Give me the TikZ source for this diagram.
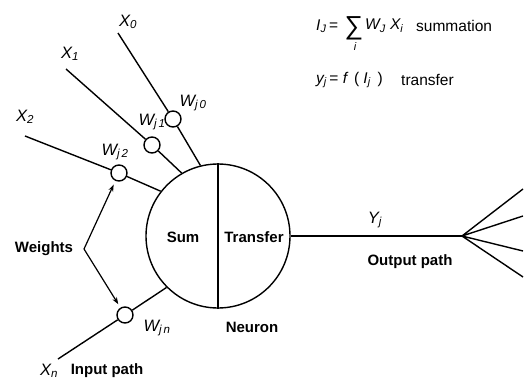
\documentclass[tikz,border=0pt]{standalone}
\usepackage{fontspec}
\setmainfont{Liberation Sans}
\usetikzlibrary{arrows.meta}
\newcommand\sbs[1]{\textsubscript{#1}}
\begin{document}
\begin{tikzpicture}[x=1pt,y=-1pt,
  ln/.style={line width=1.4pt},
  wc/.style={circle,draw,line width=1.4pt,minimum size=16pt,inner sep=0pt},
  lbl/.style={font=\fontsize{15}{17}\selectfont\bfseries,inner sep=0pt},
  var/.style={font=\fontsize{16.5}{18}\selectfont\itshape,inner sep=0pt},
  frm/.style={font=\fontsize{15.5}{17}\selectfont,inner sep=0pt,anchor=west},
  arr/.style={line width=1.2pt,-{Stealth[length=7pt,width=5pt]},shorten >=4pt}]
\useasboundingbox (0,0) rectangle (524,383);
% neuron
\node[circle,draw,line width=1.4pt,minimum size=144pt,inner sep=0pt] (N) at (218,236) {};
\draw[ln] (N.north) -- (N.south);
\node[lbl] (sum) at (183,237) {Sum};
\node[lbl] (tr) at (254,237) {Transfer};
% weight circles
\node[wc] (w0) at (173,119) {};
\node[wc] (w1) at (152,145) {};
\node[wc] (w2) at (119,173) {};
\node[wc] (wn) at (125,315) {};
% input ends
\coordinate (x0e) at (118,33);
\coordinate (x1e) at (66,69);
\coordinate (x2e) at (25,136);
\coordinate (xne) at (58,359);
\draw[ln] (x0e) -- (w0) -- (N.104);
\draw[ln] (x1e) -- (w1) -- (N.120);
\draw[ln] (x2e) -- (w2) -- (N.142);
\draw[ln] (xne) -- (wn) -- (N.225);
% output
\coordinate (F) at (462,236);
\draw[ln] (N.east) -- (F);
\coordinate (o1) at (523,189);
\coordinate (o2) at (523,216);
\coordinate (o3) at (523,251);
\coordinate (o4) at (523,277);
\draw[ln] (F) -- (o1) (F) -- (o2) (F) -- (o3) (F) -- (o4);
% labels
\node[var] (lx0) at (128,22) {X\sbs{0}};
\node[var] (lx1) at (70,54) {X\sbs{1}};
\node[var] (lx2) at (25,117) {X\sbs{2}};
\node[var] (lxn) at (49,371) {X\sbs{n}};
\node[var] (lw0) at (193,103) {W\sbs{j\,0}};
\node[var] (lw1) at (152,122) {W\sbs{j\,1}};
\node[var] (lw2) at (115,152) {W\sbs{j\,2}};
\node[var] (lwn) at (157,328) {W\sbs{j\,n}};
\node[var] (ly) at (375,220) {Y\sbs{j}};
\node[lbl] (inp) at (107,371) {Input path};
\node[lbl] (neu) at (252,327) {Neuron};
\node[lbl] (outp) at (410,262) {Output path};
\node[lbl] (wts) at (44,249) {Weights};
\coordinate (wa) at (84,249);
\draw[arr] (wa) -- (w2);
\draw[arr] (wa) -- (wn);
% formulas
\node[frm] (f1) at (316,26) {\itshape I\sbs{J}\upshape\,=};
\node[inner sep=0pt,font=\fontsize{26}{28}\selectfont] (sig) at (354,28) {∑};
\node[var] (si) at (355,47) {\fontsize{11}{12}\selectfont i};
\node[frm] (f2) at (365,26) {\itshape W\sbs{J} X\sbs{i}};
\node[frm] (f3) at (416,26) {summation};
\node[frm] (g1) at (316,80) {\itshape y\sbs{j}\upshape\,= \itshape f\upshape\, ( \itshape I\sbs{j}\upshape\, )};
\node[frm] (g2) at (401,80) {transfer};
\end{tikzpicture}
\end{document}
